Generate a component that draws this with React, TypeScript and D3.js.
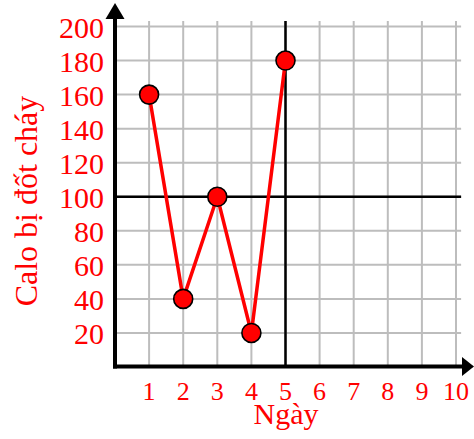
import React from "react";
import * as d3 from "d3";

const days = [1, 2, 3, 4, 5];
const calories = [160, 40, 100, 20, 180];
const xTicks = [1, 2, 3, 4, 5, 6, 7, 8, 9, 10];
const yTicks = [20, 40, 60, 80, 100, 120, 140, 160, 180, 200];
const xTitle = "Ngày";
const yTitle = "Calo bị đốt cháy";

const W = 474;
const H = 439;
const FONT = "'Liberation Serif', 'Times New Roman', serif";

export default function App() {
  const x = d3.scaleLinear().domain([0, 10]).range([115, 456]);
  const y = d3.scaleLinear().domain([0, 200]).range([367, 26.5]);
  const line = d3
    .line<number>()
    .x((_, i) => x(days[i]))
    .y((d) => y(d));
  const gridTop = y(203.3);
  const gridRight = x(10.15);
  const ax = x(0);
  const ay = y(0) - 0.5;

  return (
    <div style={{ position: "absolute", left: 0, top: 0 }}>
      <svg width={W} height={H} style={{ display: "block" }}>
        <rect width={W} height={H} fill="#fff" />
        {xTicks.map((t) => (
          <line key={"vx" + t} x1={x(t)} x2={x(t)} y1={gridTop} y2={ay} stroke="#bdbdbd" strokeWidth={2} />
        ))}
        {yTicks.map((t) => (
          <line key={"hy" + t} x1={ax} x2={gridRight} y1={y(t)} y2={y(t)} stroke="#bdbdbd" strokeWidth={2} />
        ))}
        <line x1={x(5)} x2={x(5)} y1={gridTop} y2={ay} stroke="#000" strokeWidth={2.5} />
        <line x1={ax} x2={gridRight} y1={y(100)} y2={y(100)} stroke="#000" strokeWidth={2.5} />
        {/* axes */}
        <line x1={ax} x2={ax} y1={ay + 2} y2={12} stroke="#000" strokeWidth={4} />
        <polygon points={`${ax},3 ${ax - 9.5},19 ${ax + 9.5},19`} fill="#000" />
        <line x1={ax - 2} x2={465} y1={ay} y2={ay} stroke="#000" strokeWidth={4} />
        <polygon points={`474,${ay} 462,${ay - 9.5} 462,${ay + 9.5}`} fill="#000" />
        {/* data */}
        <path d={line(calories) || ""} fill="none" stroke="#ff0000" strokeWidth={3.5} strokeLinejoin="round" />
        {calories.map((v, i) => (
          <circle key={"p" + i} cx={x(days[i])} cy={y(v)} r={9.5} fill="#ff0000" stroke="#000" strokeWidth={1.6} />
        ))}
        {/* tick labels */}
        {yTicks.map((t) => (
          <text key={"yl" + t} x={104} y={y(t) + 11} textAnchor="end" fontFamily={FONT} fontSize={30} fill="#ff0000">
            {t}
          </text>
        ))}
        {xTicks.map((t) => (
          <text key={"xl" + t} x={x(t)} y={400} textAnchor="middle" fontFamily={FONT} fontSize={26} fill="#ff0000">
            {t}
          </text>
        ))}
        <text x={286} y={424} textAnchor="middle" fontFamily={FONT} fontSize={30} fill="#ff0000">
          {xTitle}
        </text>
        <text
          transform={`translate(37,${201}) rotate(-90)`}
          textAnchor="middle"
          fontFamily={FONT}
          fontSize={32}
          fill="#ff0000"
        >
          {yTitle}
        </text>
      </svg>
    </div>
  );
}
